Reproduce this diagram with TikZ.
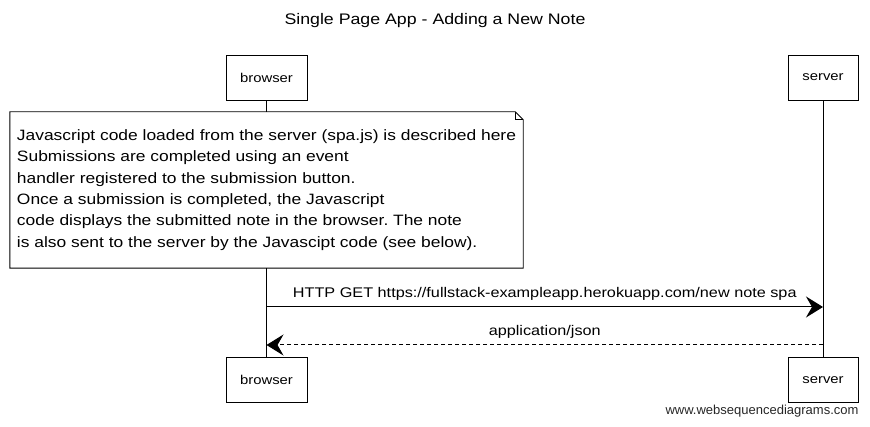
\documentclass[tikz,border=0pt]{standalone}
\usepackage{fontspec}
\setmainfont{Liberation Sans}
\newfontfamily\hand[FakeStretch=1.16]{Liberation Sans}
\usetikzlibrary{arrows.meta}
\frenchspacing
\begin{document}
\begin{tikzpicture}[x=1pt,y=-1pt,
  actor/.style={draw,line width=0.9pt,minimum width=81pt,minimum height=45pt,inner sep=0pt,font=\hand\fontsize{12.8}{15}\selectfont},
  sactor/.style={actor,minimum width=70pt},
  life/.style={line width=0.7pt},
  msg/.style={line width=1pt,-{Stealth[length=17pt,width=21pt,inset=6pt]}},
  lbl/.style={font=\hand\fontsize{14}{16}\selectfont,inner sep=1pt}
]
\useasboundingbox (0,0) rectangle (870,427);
% title
\node[font=\hand\fontsize{15.3}{18}\selectfont] (title) at (435,21) {Single Page App - Adding a New Note};
% actors
\node[actor] (btop) at (266.5,77.5) {browser};
\node[sactor] (stop) at (823,77.5) {server};
\node[actor] (bbot) at (266.5,380) {browser};
\node[sactor] (sbot) at (823,380) {server};
% note
\node[minimum width=513pt,minimum height=156pt,inner sep=0pt,align=left,
  font=\hand\fontsize{15}{21.4}\selectfont] (note) at (266.5,190)
  {Javascript code loaded from the server (spa.js) is described here\\
   Submissions are completed using an event\\
   handler registered to the submission button.\\
   Once a submission is completed, the Javascript\\
   code displays the submitted note in the browser. The note\\
   is also sent to the server by the Javascipt code (see below).};
\draw[line width=0.9pt] (note.north west) -- ([xshift=-8pt]note.north east) -- ([yshift=-8pt]note.north east) -- (note.south east) -- (note.south west) -- cycle;
\draw[line width=0.6pt] ([xshift=-8pt]note.north east) -- ([xshift=-8pt,yshift=-8pt]note.north east) -- ([yshift=-8pt]note.north east);
% lifelines
\draw[life] (btop.south) -- (note.north -| btop.south);
\draw[life] (note.south -| btop.south) -- (bbot.north);
\draw[life] (stop.south) -- (sbot.north);
% messages
\coordinate (m1) at (0,307);
\coordinate (m2) at (0,345);
\draw[msg] (btop |- m1) -- (stop |- m1) node[lbl,midway,above=5pt] {HTTP GET https://fullstack-exampleapp.herokuapp.com/new note spa};
\draw[msg,dash pattern=on 4pt off 3pt] (stop |- m2) -- (btop |- m2) node[lbl,midway,above=5pt] {application/json};
% footer
\node[anchor=east,font=\fontsize{13}{15}\selectfont,text=black!85] (web) at (862,411) {www.websequencediagrams.com};
\end{tikzpicture}
\end{document}
